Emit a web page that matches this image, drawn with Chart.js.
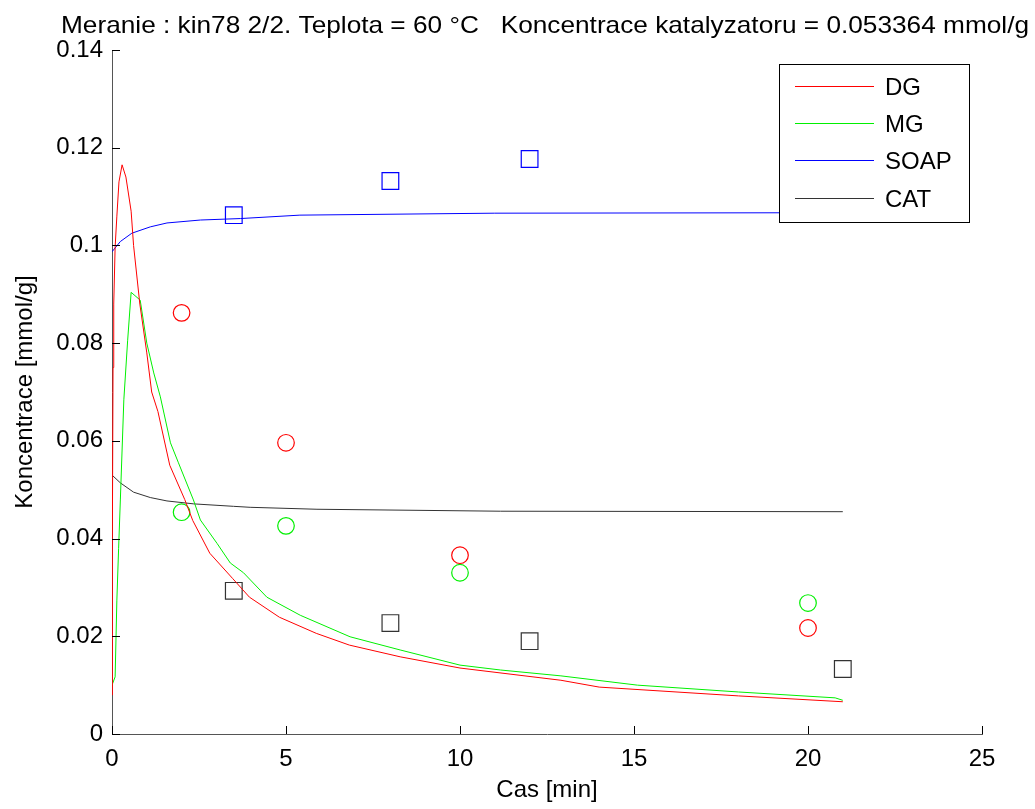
<!DOCTYPE html>
<html lang="cs">
<head>
<meta charset="UTF-8">
<title>kin78 2/2</title>
<script src="https://cdn.jsdelivr.net/npm/chart.js"></script>
<style>
  body { margin: 0; background: #fff; }
  #wrap { width: 1035px; height: 809px; }
</style>
</head>
<body>
<div id="wrap"><canvas id="kinChart" width="1035" height="809"></canvas></div>
<script>
// model curves (cas [min], koncentrace [mmol/g])
const dgT   = [0, 0.01, 0.03, 0.05, 0.09, 0.14, 0.2, 0.29, 0.4, 0.55, 0.62, 0.8, 1.0, 1.14, 1.32, 1.66, 2.09, 2.32, 2.81, 3.47, 3.95, 4.81, 5.87, 6.82, 8.28, 10, 12.9, 14, 18, 21];
const dgY   = [0.008, 0.04, 0.075, 0.088, 0.0997, 0.106, 0.113, 0.1165, 0.114, 0.107, 0.1, 0.088, 0.078, 0.070, 0.066, 0.055, 0.048, 0.0437, 0.037, 0.0318, 0.028, 0.0239, 0.0206, 0.0182, 0.0158, 0.0135, 0.011, 0.0096, 0.0078, 0.0066];
const mgT   = [0, 0.09, 0.14, 0.19, 0.24, 0.34, 0.45, 0.55, 0.81, 1.0, 1.2, 1.39, 1.68, 1.91, 2.34, 2.54, 3.02, 3.4, 3.78, 4.45, 5.41, 6.84, 8.28, 10, 11.16, 12.9, 15.1, 18, 20.78, 21];
const mgY   = [0.01, 0.0117, 0.0274, 0.038, 0.0479, 0.0684, 0.0806, 0.0904, 0.0888, 0.080, 0.0739, 0.069, 0.0596, 0.0555, 0.0479, 0.0438, 0.039, 0.035, 0.033, 0.028, 0.0243, 0.0199, 0.0172, 0.0141, 0.0131, 0.0119, 0.0100, 0.0086, 0.0074, 0.0069];
const soapT = [0, 0.24, 0.57, 1.1, 1.58, 2.54, 3.69, 5.4, 11, 21];
const soapY = [0.0987, 0.1008, 0.1025, 0.1038, 0.1046, 0.1052, 0.1055, 0.1062, 0.1066, 0.1067];
const catT  = [0, 0.24, 0.62, 1.1, 1.58, 2.35, 3.49, 3.97, 5.89, 11.16, 21];
const catY  = [0.053, 0.0514, 0.0495, 0.0484, 0.0477, 0.0471, 0.0466, 0.0464, 0.046, 0.0456, 0.0455];

// measured points
const dgMeasT   = [2, 5, 10, 20];
const dgMeasY   = [0.0862, 0.0596, 0.0366, 0.0217];
const mgMeasT   = [2, 5, 10, 20];
const mgMeasY   = [0.0454, 0.0426, 0.033, 0.0268];
const soapMeasT = [3.5, 8, 12];
const soapMeasY = [0.1062, 0.1132, 0.1177];
const catMeasT  = [3.5, 8, 12, 21];
const catMeasY  = [0.0293, 0.0227, 0.019, 0.0133];

const xTickVals = [0, 5, 10, 15, 20, 25];
const xTickLabels = ['0', '5', '10', '15', '20', '25'];
const yTickVals = [0, 0.02, 0.04, 0.06, 0.08, 0.1, 0.12, 0.14];
const yTickLabels = ['0', '0.02', '0.04', '0.06', '0.08', '0.1', '0.12', '0.14'];

const legendNames = ['DG', 'MG', 'SOAP', 'CAT'];
const titleText = 'Meranie : kin78 2/2. Teplota = 60 °C   Koncentrace katalyzatoru = 0.053364 mmol/g';

const FONT = '"Liberation Sans", Arial, sans-serif';
const colors = ['#ff0000', '#00f000', '#0000ff', '#333333'];

function pts(t, y) { return t.map((v, i) => ({ x: v, y: y[i] })); }

function lineSet(label, t, y, color) {
    return { label: label, data: pts(t, y), showLine: true, borderColor: color, borderWidth: 1,
             pointRadius: 0, tension: 0, fill: false };
}
function markSet(label, t, y, color, style, r) {
    return { label: label, data: pts(t, y), showLine: false, borderColor: color, backgroundColor: 'rgba(0,0,0,0)',
             borderWidth: 1.2, pointStyle: style, pointRadius: r, pointHoverRadius: r };
}

// title, inward ticks and the boxed legend, matlab style
const matlabBits = {
    id: 'matlabBits',
    afterDraw(chart) {
        const ctx = chart.ctx;
        const a = chart.chartArea;
        const xs = chart.scales.x, ys = chart.scales.y;
        ctx.save();
        // ticks
        ctx.strokeStyle = '#000';
        ctx.lineWidth = 1;
        ctx.beginPath();
        yTickVals.forEach(v => {
            const p = Math.round(ys.getPixelForValue(v)) + 0.5;
            ctx.moveTo(a.left, p); ctx.lineTo(a.left + 8, p);
        });
        xTickVals.forEach(v => {
            const p = Math.round(xs.getPixelForValue(v)) + 0.5;
            ctx.moveTo(p, a.bottom); ctx.lineTo(p, a.bottom - 8);
        });
        ctx.stroke();

        // title, stretched to the width it has in the original
        ctx.fillStyle = '#000';
        ctx.font = '24px ' + FONT;
        ctx.textAlign = 'center';
        ctx.textBaseline = 'alphabetic';
        const w = ctx.measureText(titleText).width;
        const sx = 968 / w;
        ctx.save();
        ctx.translate(545, 33);
        ctx.scale(sx, 1);
        ctx.fillText(titleText, 0, 0);
        ctx.restore();

        // legend
        const lx = 779, ly = 64, lw = 190, lh = 158;
        ctx.fillStyle = '#fff';
        ctx.fillRect(lx, ly, lw, lh);
        ctx.strokeStyle = '#000';
        ctx.strokeRect(lx + 0.5, ly + 0.5, lw, lh);
        const rows = [86, 123, 160, 198];
        ctx.font = '24px ' + FONT;
        ctx.textAlign = 'left';
        ctx.textBaseline = 'middle';
        legendNames.forEach((n, i) => {
            ctx.strokeStyle = colors[i];
            ctx.beginPath();
            ctx.moveTo(795, rows[i] + 0.5); ctx.lineTo(874, rows[i] + 0.5);
            ctx.stroke();
            ctx.fillStyle = '#000';
            ctx.fillText(n, 885, rows[i] + 2);
        });
        ctx.restore();
    }
};

const ctx = document.getElementById('kinChart').getContext('2d');
const kinChart = new Chart(ctx, {
    type: 'scatter',
    data: {
        datasets: [
            lineSet('DG', dgT, dgY, colors[0]),
            lineSet('MG', mgT, mgY, colors[1]),
            lineSet('SOAP', soapT, soapY, colors[2]),
            lineSet('CAT', catT, catY, colors[3]),
            markSet('DG exp', dgMeasT, dgMeasY, colors[0], 'circle', 8.3),
            markSet('MG exp', mgMeasT, mgMeasY, colors[1], 'circle', 8.3),
            markSet('SOAP exp', soapMeasT, soapMeasY, colors[2], 'rect', 11.8),
            markSet('CAT exp', catMeasT, catMeasY, colors[3], 'rect', 11.8)
        ]
    },
    options: {
        responsive: false,
        animation: false,
        layout: { padding: { top: 50, right: 53, left: 0, bottom: 0 } },
        plugins: {
            legend: { display: false },
            title: { display: false },
            tooltip: { enabled: false }
        },
        scales: {
            x: {
                type: 'linear', min: 0, max: 25,
                afterFit: s => { s.height = 75; },
                afterBuildTicks: s => { s.ticks = xTickVals.map(v => ({ value: v })); },
                grid: { display: false, drawTicks: false },
                border: { display: true, color: '#555', width: 1 },
                ticks: { padding: 11, color: '#000', font: { family: FONT, size: 24 },
                         maxRotation: 0, callback: (v, i) => xTickLabels[i] },
                title: { display: true, text: 'Cas [min]', color: '#000', padding: { top: 0 },
                         font: { family: FONT, size: 24 } }
            },
            y: {
                type: 'linear', min: 0, max: 0.14,
                afterFit: s => { s.width = 112; },
                afterBuildTicks: s => { s.ticks = yTickVals.map(v => ({ value: v })); },
                grid: { display: false, drawTicks: false },
                border: { display: true, color: '#555', width: 1 },
                ticks: { padding: 9, color: '#000', font: { family: FONT, size: 24 },
                         callback: (v, i) => yTickLabels[i] },
                title: { display: true, text: 'Koncentrace [mmol/g]', color: '#000', padding: { top: 11 },
                         font: { family: FONT, size: 24 } }
            }
        }
    },
    plugins: [matlabBits]
});
</script>
</body>
</html>
